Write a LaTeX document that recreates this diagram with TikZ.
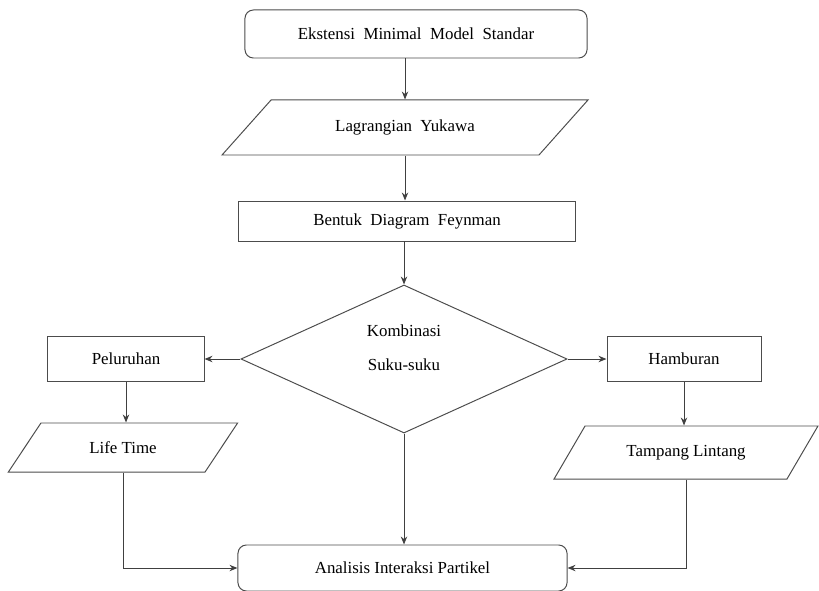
\documentclass[tikz,border=0pt]{standalone}
\usepackage{fontspec}
\setmainfont{Liberation Serif}
\usetikzlibrary{shapes.geometric,arrows.meta,positioning}
\begin{document}
\begin{tikzpicture}[x=0.025cm, y=-0.025cm,
  box/.style={rectangle, draw=black!70, line width=0.7pt, inner sep=0pt,
              font=\fontsize{12}{14}\selectfont, align=center},
  rbox/.style={box, rounded corners=6pt},
  para/.style={box, trapezium, trapezium stretches=true},
  dec/.style={box, diamond},
  arr/.style={-{Stealth[length=2mm,width=1.6mm]}, draw=black!75, line width=0.7pt},
]
\useasboundingbox (0,0) rectangle (819,590);
\node[rbox, minimum width=8.55cm, minimum height=1.2cm] (ext) at (416,34) {Ekstensi\ \ Minimal\ \ Model\ \ Standar};
\node[para, minimum width=9.15cm, minimum height=1.375cm,
      trapezium left angle=31, trapezium right angle=149] (lag) at (405,127.5) {Lagrangian\ \ Yukawa};
\node[box, minimum width=8.4cm, minimum height=1cm] (ben) at (407,221) {Bentuk\ \ Diagram\ \ Feynman};
\node[dec, minimum width=8.15cm, minimum height=3.7cm] (kom) at (404,359) {Kombinasi\\[10pt]Suku-suku\\[2pt]};

\node[box, minimum width=3.9cm, minimum height=1.125cm] (pel) at (126,359) {Peluruhan};
\node[para, minimum width=5.75cm, minimum height=1.225cm,
      trapezium left angle=42, trapezium right angle=138] (life) at (123,447.5) {Life Time};

\node[box, minimum width=3.85cm, minimum height=1.125cm] (ham) at (684,359) {Hamburan};
\node[para, minimum width=6.6cm, minimum height=1.325cm,
      trapezium left angle=39, trapezium right angle=141] (tamp) at (686,452.5) {Tampang Lintang};

\node[rbox, minimum width=8.225cm, minimum height=1.15cm] (ana) at (402.5,568) {Analisis Interaksi Partikel};

\draw[arr] (ext.south -| lag.north) -- (lag.north);
\draw[arr] (lag.south) -- (lag.south |- ben.north);
\draw[arr] (ben.south -| kom.north) -- (kom.north);
\draw[arr] (kom.west) -- (pel.east);
\draw[arr] (kom.east) -- (ham.west);
\draw[arr] (pel.south) -- (pel.south |- life.north);
\draw[arr] (ham.south) -- (ham.south |- tamp.north);
\draw[arr] (kom.south) -- (kom.south |- ana.north);
\draw[arr] (life.south) |- (ana.west);
\draw[arr] (tamp.south) |- (ana.east);
\end{tikzpicture}
\end{document}
